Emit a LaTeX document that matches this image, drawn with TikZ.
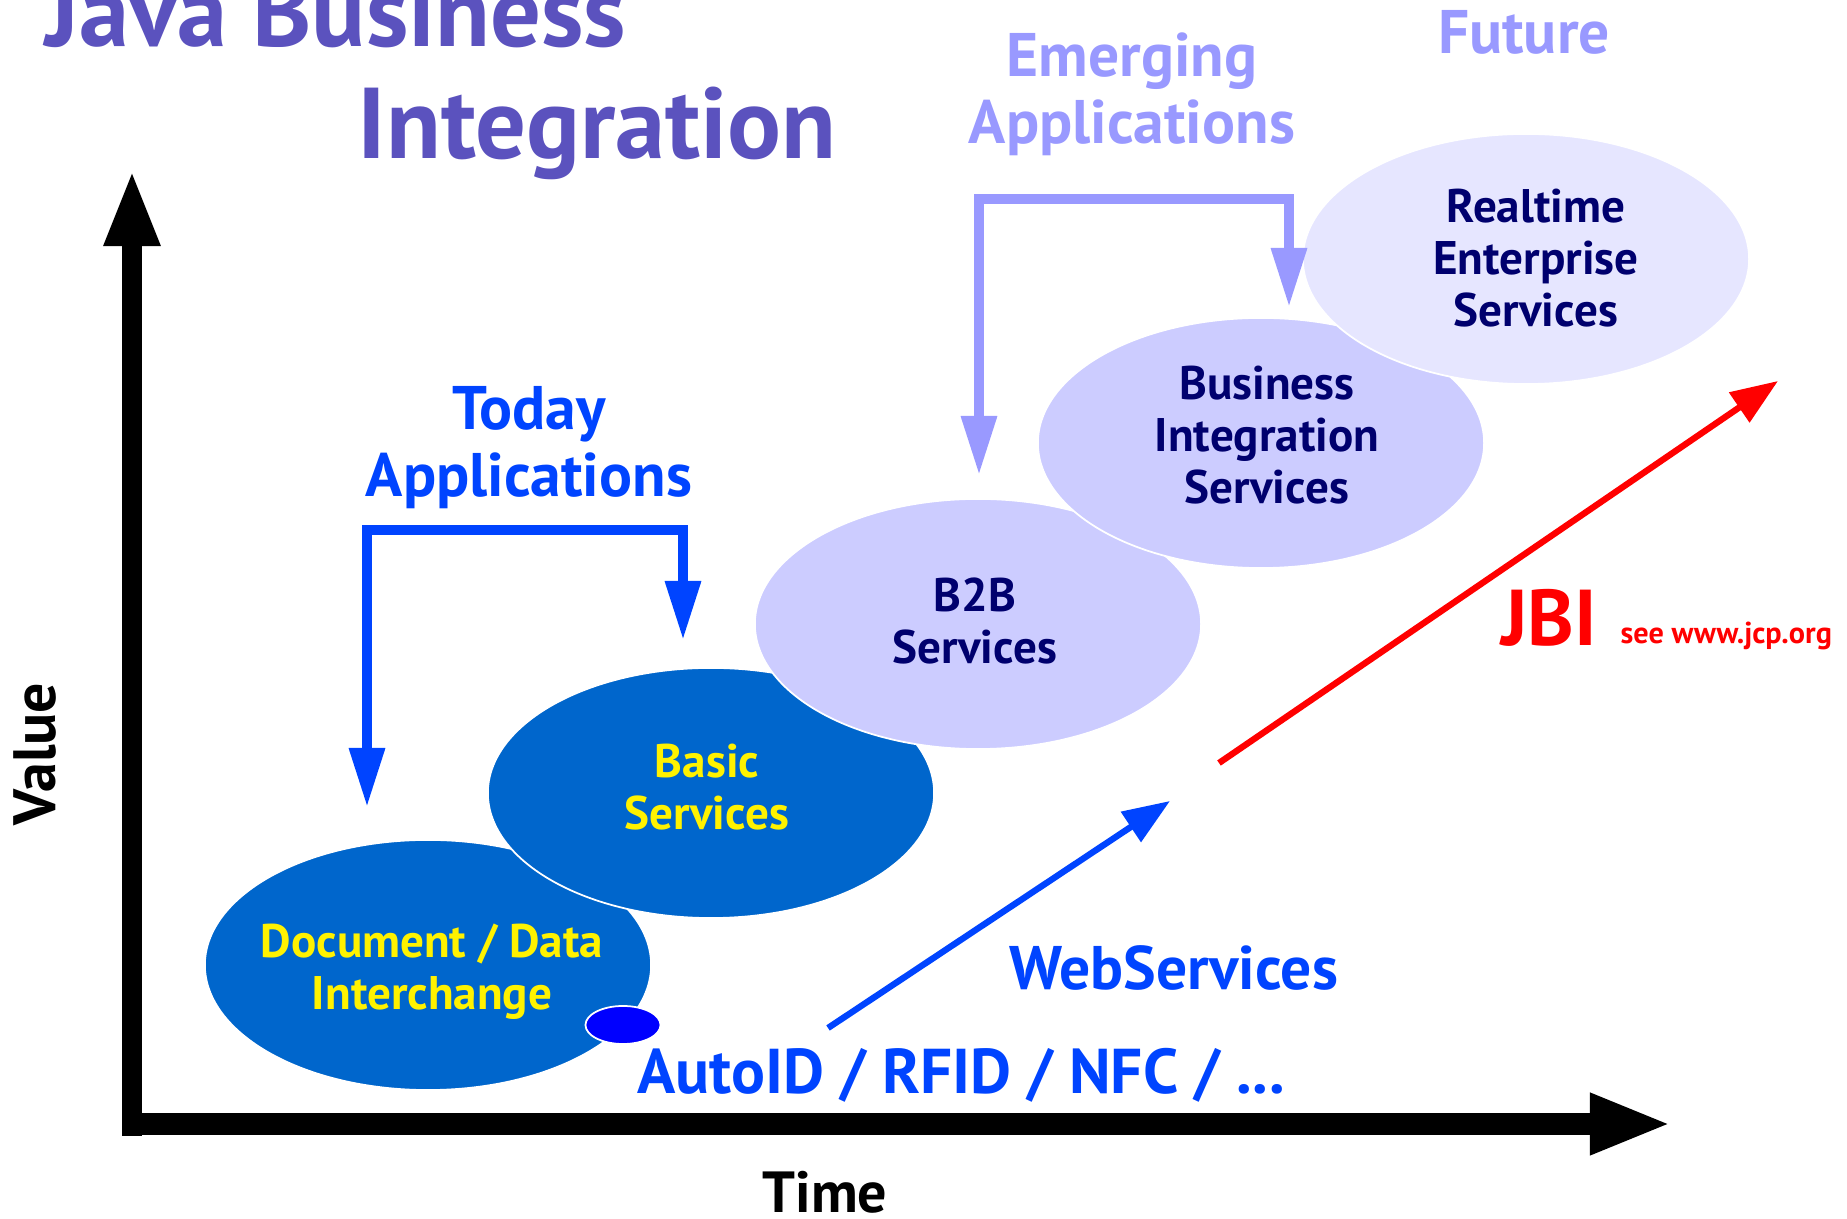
\documentclass[tikz,border=0pt]{standalone}
\usepackage{fontspec}
\setmainfont{PT Sans}
\usepackage{xcolor}
\usepackage{tikz}
\usetikzlibrary{arrows.meta, shapes.geometric}

\definecolor{titleblue}{RGB}{91,82,190}
\definecolor{todayblue}{RGB}{0,68,255}
\definecolor{emergeblue}{RGB}{153,153,255}
\definecolor{darkoval}{RGB}{0,102,204}
\definecolor{midoval}{RGB}{204,204,255}
\definecolor{lightoval}{RGB}{230,230,255}
\definecolor{ovalnavy}{RGB}{0,0,110}

\begin{document}
\begin{tikzpicture}[x=0.01cm, y=-0.01cm, every node/.style={inner sep=0pt, font=\bfseries},
        oval/.style={ellipse, draw=white, line width=0.5pt, minimum width=4.46cm, minimum height=2.5cm},
        ovaltext/.style={align=center, font=\fontsize{13.4}{14.8}\selectfont\bfseries},
        bigtext/.style={align=center, font=\fontsize{17.5}{19}\selectfont\bfseries},
        titletext/.style={anchor=base west, text=titleblue, font=\fontsize{28.6}{30}\selectfont\bfseries},
        trend/.style={line width=1.8pt, -{Triangle[length=4.7mm, width=3.5mm]}},
        bracket/.style={line width=2.7pt, {Triangle[length=5.9mm, width=3.4mm]}-{Triangle[length=5.9mm, width=3.4mm]}}]
        \useasboundingbox (0,0) rectangle (1847,1219);

        \node[titletext] (java) at (45,47) {Java Business};
        \node[titletext] (integ) at (357,159) {Integration};

        \coordinate (Ytop) at (132,169);
        \coordinate (Xend) at (1672,1124);
        \draw[line width=0.2cm, -{Triangle[length=7.7mm, width=5.1mm]}] (132,1136) -- (Ytop);
        \draw[line width=0.22cm, -{Triangle[length=8.2mm, width=5.6mm]}] (124,1124) -- (Xend);
        \node[rotate=90, font=\fontsize{17}{19}\selectfont\bfseries] (value) at (35,754) {Value};
        \node[font=\fontsize{16.5}{18}\selectfont\bfseries] (time) at (825,1192) {Time};

        \node[oval, fill=darkoval] (D) at (428,965) {};
        \node[oval, fill=darkoval] (B) at (711,793) {};
        \node[oval, fill=midoval] (C) at (978,624) {};
        \node[oval, fill=midoval] (E) at (1261,443) {};
        \node[oval, fill=lightoval] (F) at (1526,259) {};
        \node[ellipse, draw=white, line width=0.5pt, fill=blue, minimum width=0.75cm, minimum height=0.38cm] (dot) at (623,1025) {};

        \node[ovaltext, text=yellow] (Dt) at (432,972) {Document / Data\\Interchange};
        \node[ovaltext, text=yellow] (Bt) at (707,787) {Basic\\Services};
        \node[ovaltext, text=ovalnavy] (Ct) at (975,621) {B2B\\Services};
        \node[ovaltext, text=ovalnavy] (Et) at (1267,435) {Business\\Integration\\Services};
        \node[ovaltext, text=ovalnavy] (Ft) at (1536,258) {Realtime\\Enterprise\\Services};

        \node[bigtext, text=todayblue] (today) at (529,448) {Today\\Applications};
        \coordinate (tA) at (367,807);
        \coordinate (tC) at (683,530);
        \coordinate (tD) at (683,640);
        \draw[bracket, todayblue] (tA) |- (tC) -- (tD);

        \node[bigtext, text=emergeblue] (emerge) at (1132,94) {Emerging\\Applications};
        \node[bigtext, text=emergeblue] (future) at (1524,32) {Future};
        \coordinate (eA) at (979,475);
        \coordinate (eC) at (1289,199);
        \coordinate (eD) at (1289,307);
        \draw[bracket, emergeblue] (eA) |- (eC) -- (eD);

        \coordinate (wA) at (828,1028);
        \coordinate (wB) at (1170,801);
        \draw[trend, todayblue] (wA) -- (wB);
        \node[bigtext, text=todayblue] (web) at (1174,968) {WebServices};
        \node[font=\fontsize{18}{20}\selectfont\bfseries, text=todayblue] (auto) at (961,1075) {AutoID / RFID / NFC / ...};

        \coordinate (jA) at (1219,763);
        \coordinate (jB) at (1778,381);
        \draw[trend, red] (jA) -- (jB);
        \node[font=\fontsize{22.5}{24}\selectfont\bfseries, text=red] (jbi) at (1549,618) {JBI};
        \node[font=\fontsize{8.6}{10}\selectfont\bfseries, text=red, anchor=base west] (jcp) at (1620,644) {see www.jcp.org};
    \end{tikzpicture}
\end{document}
